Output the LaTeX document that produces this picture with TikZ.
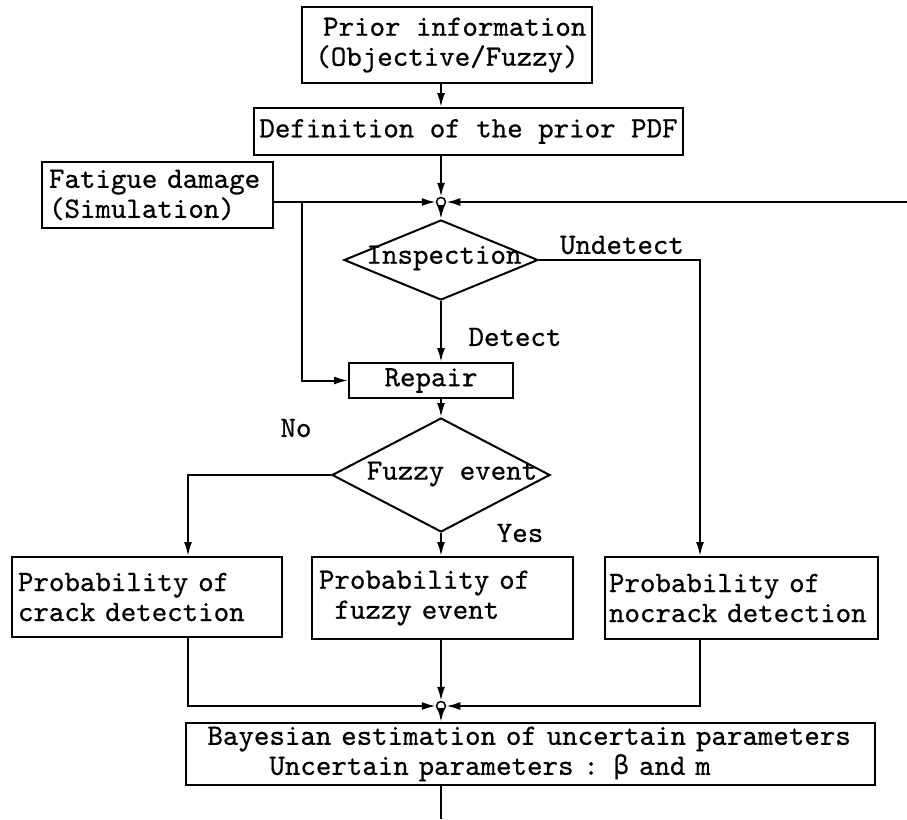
\documentclass[tikz,border=0pt]{standalone}
\usepackage{fontspec}
\newfontfamily\tw{lmmono10-regular.otf}[FakeBold=0.6]
\newfontfamily\gk{DejaVu Sans Mono}[Scale=0.88]
\usetikzlibrary{arrows.meta,shapes.geometric}
\begin{document}
\begin{tikzpicture}[x=1pt,y=-1pt,
  every node/.style={font=\tw\fontsize{29.5}{30}\selectfont},
  box/.style={draw,line width=2pt,inner sep=0pt,align=left},
  dia/.style={draw,diamond,line width=2pt,inner sep=0pt},
  lbl/.style={inner sep=0pt},
  arr/.style={line width=2pt,-{Latex[length=14pt,width=8pt]}},
  ln/.style={line width=2pt},
  jn/.style={draw,circle,line width=1.5pt,minimum size=9pt,inner sep=0pt,fill=white}]
\useasboundingbox (0,0) rectangle (907,819);
% boxes
\node[box,minimum width=290pt,minimum height=76pt,align=center] (prior) at (447,45) {\phantom{x}Prior information\\(Objective/Fuzzy)};
\node[box,minimum width=429pt,minimum height=47pt] (def) at (468.5,131.5) {Definition of the prior PDF};
\node[box,minimum width=231pt,minimum height=66pt,text width=217pt] (fat) at (157.5,195) {Fatigue damage\\(Simulation)};
\node[jn] (c1) at (441,202) {};
\node[dia,minimum width=194pt,minimum height=80pt] (insp) at (441,260) {};
\node[lbl] (insptxt) at (444,258) {Inspection};
\node[box,minimum width=164pt,minimum height=35pt] (rep) at (431,380.5) {Repair};
\node[dia,minimum width=218pt,minimum height=114pt] (fz) at (441,475) {};
\node[lbl] (fztxt) at (452,474) {Fuzzy event};
\node[box,minimum width=270pt,minimum height=80pt,text width=258pt] (crack) at (147,597) {Probability of\\crack detection};
\node[box,minimum width=261pt,minimum height=82pt,text width=247pt] (pf) at (442.5,598) {Probability of\\\phantom{x}fuzzy event};
\node[box,minimum width=273pt,minimum height=82pt,text width=265pt] (noc) at (741.5,598) {Probability of\\nocrack detection};
\node[jn] (c2) at (441,706) {};
\node[box,minimum width=689pt,minimum height=62pt,text width=677pt] (bay) at (530.5,754) {\phantom{x}Bayesian estimation of uncertain parameters\\\phantom{xxxxx}Uncertain parameters : {\gk β} and m};
% labels
\node[lbl] (lu) at (622,245) {Undetect};
\node[lbl] (ld) at (515,337) {Detect};
\node[lbl] (lno) at (296,428) {No};
\node[lbl] (lyes) at (520,533) {Yes};
% coordinates
\coordinate (rt) at (907,202);
\coordinate (br) at (302,202);
\coordinate (ud) at (700,260);
\coordinate (nd) at (188,475);
\coordinate (bot) at (441,819);
% connectors
\draw[arr] (prior.south -| c1) -- (def.north -| c1);
\draw[arr] (def.south -| c1) -- (c1.north);
\draw[arr] (fat.east |- c1) -- (c1.west);
\draw[arr] (rt) -- (c1.east);
\draw[arr] (c1.south) -- (insp.north);
\draw[arr] (br) |- (rep.west);
\draw[arr] (insp.south) -- (rep.north -| insp.south);
\draw[arr] (insp.east) -- (ud) -- (ud |- noc.north);
\draw[arr] (rep.south -| fz.north) -- (fz.north);
\draw[arr] (fz.west) -- (nd) -- (nd |- crack.north);
\draw[arr] (fz.south) -- (pf.north -| fz.south);
\draw[arr] (crack.south -| nd) |- (c2.west);
\draw[arr] (noc.south -| ud) |- (c2.east);
\draw[arr] (pf.south -| c2) -- (c2.north);
\draw[arr] (c2.south) -- (bay.north -| c2);
\draw[ln] (bay.south -| bot) -- (bot);
\end{tikzpicture}
\end{document}
